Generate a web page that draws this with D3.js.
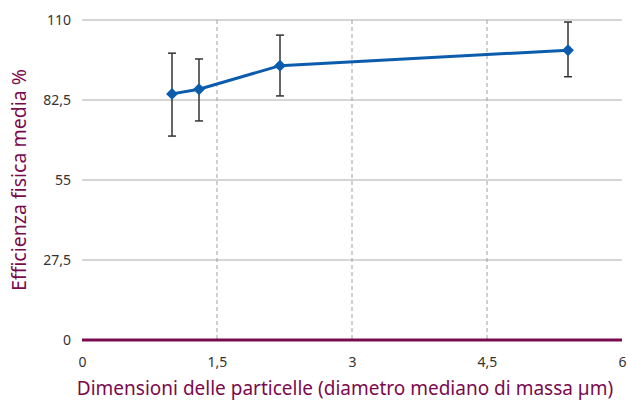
<!DOCTYPE html>
<html>
<head>
<meta charset="utf-8">
<script src="https://cdn.jsdelivr.net/npm/d3@7"></script>
<style>
  body { margin: 0; background: #fff; }
  text { font-family: "Noto Sans", sans-serif; }
</style>
</head>
<body>
<div id="chart"></div>
<script>
// data
var sizes = [1.0, 1.3, 2.2, 5.4];
var efficiency = [84.6, 86.2, 94.3, 99.6];
var errLow = [70.1, 75.3, 83.9, 90.5];
var errHigh = [98.6, 96.6, 104.8, 109.3];
var xTicks = [0, 1.5, 3, 4.5, 6];
var yTicks = [0, 27.5, 55, 82.5, 110];

var width = 628, height = 401;
var plotL = 82, plotR = 622, plotT = 20, plotB = 340;
var fmt = function(d) { return String(d).replace(".", ","); };

var svg = d3.select("#chart")
  .append("svg")
  .attr("width", width)
  .attr("height", height);

var x = d3.scaleLinear().domain([0, 6]).range([plotL, plotR]);
var y = d3.scaleLinear().domain([0, 110]).range([plotB, plotT]);

// horizontal grid
svg.append("g")
  .selectAll("line")
  .data(yTicks.filter(d => d > 0))
  .enter()
  .append("line")
  .attr("x1", plotL).attr("x2", plotR)
  .attr("y1", d => y(d)).attr("y2", d => y(d))
  .attr("stroke", "#adadad")
  .attr("stroke-width", 1.2);

// vertical dashed grid
svg.append("g")
  .selectAll("line")
  .data(xTicks.filter(d => d > 0 && d < 6))
  .enter()
  .append("line")
  .attr("x1", d => x(d)).attr("x2", d => x(d))
  .attr("y1", plotT).attr("y2", plotB)
  .attr("stroke", "#a0a0a0")
  .attr("stroke-width", 1)
  .attr("stroke-dasharray", "4,3");

// zero line
svg.append("line")
  .attr("x1", plotL).attr("x2", plotR)
  .attr("y1", y(0)).attr("y2", y(0))
  .attr("stroke", "#7a0a4e")
  .attr("stroke-width", 3);

// tick labels
var xAxis = d3.axisBottom(x).tickValues(xTicks).tickFormat(fmt).tickSize(0).tickPadding(17);
var gx = svg.append("g")
  .attr("transform", "translate(0," + plotB + ")")
  .call(xAxis);
gx.select(".domain").remove();
gx.selectAll("text").attr("font-size", 14).attr("fill", "#333")
  .attr("font-family", "Noto Sans, sans-serif");

var yAxis = d3.axisLeft(y).tickValues(yTicks).tickFormat(fmt).tickSize(0).tickPadding(11);
var gy = svg.append("g")
  .attr("transform", "translate(" + plotL + ",0)")
  .call(yAxis);
gy.select(".domain").remove();
gy.selectAll("text").attr("font-size", 14).attr("fill", "#333")
  .attr("font-family", "Noto Sans, sans-serif");

// error bars
var pts = sizes.map((d, i) => ({x: d, v: efficiency[i], lo: errLow[i], hi: errHigh[i]}));
var eb = svg.append("g").selectAll("g").data(pts).enter().append("g")
  .attr("stroke", "#333").attr("stroke-width", 1.5);
eb.append("line")
  .attr("x1", d => x(d.x)).attr("x2", d => x(d.x))
  .attr("y1", d => y(d.hi)).attr("y2", d => y(d.lo));
eb.append("line")
  .attr("x1", d => x(d.x) - 4).attr("x2", d => x(d.x) + 4)
  .attr("y1", d => y(d.hi)).attr("y2", d => y(d.hi));
eb.append("line")
  .attr("x1", d => x(d.x) - 4).attr("x2", d => x(d.x) + 4)
  .attr("y1", d => y(d.lo)).attr("y2", d => y(d.lo));

// series line
var line = d3.line().x(d => x(d.x)).y(d => y(d.v));
svg.append("path")
  .datum(pts)
  .attr("d", line)
  .attr("fill", "none")
  .attr("stroke", "#0b5cad")
  .attr("stroke-width", 3);

// diamond markers
svg.append("g")
  .selectAll("path")
  .data(pts)
  .enter()
  .append("path")
  .attr("transform", d => "translate(" + x(d.x) + "," + y(d.v) + ")")
  .attr("d", d3.symbol().type(d3.symbolDiamond2).size(90))
  .attr("fill", "#0b5cad");

// axis titles
svg.append("text")
  .attr("x", 345)
  .attr("y", 395)
  .attr("text-anchor", "middle")
  .attr("font-size", 19)
  .attr("fill", "#7a0a4e")
  .attr("font-family", "Noto Sans, sans-serif")
  .text("Dimensioni delle particelle (diametro mediano di massa µm)");

svg.append("text")
  .attr("transform", "translate(26,180) rotate(-90)")
  .attr("text-anchor", "middle")
  .attr("font-size", 19.5)
  .attr("fill", "#7a0a4e")
  .attr("font-family", "Noto Sans, sans-serif")
  .text("Efficienza fisica media %");
</script>
</body>
</html>
